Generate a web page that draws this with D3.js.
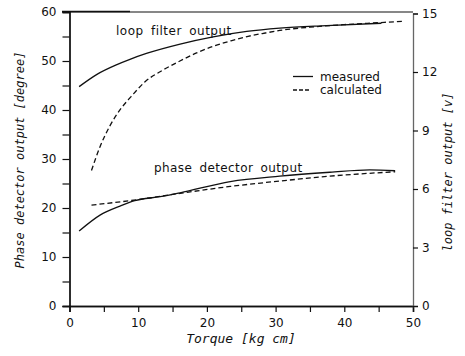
<!DOCTYPE html>
<html>
<head>
<meta charset="utf-8">
<script src="https://cdn.jsdelivr.net/npm/d3@7"></script>
<style>
  body { margin: 0; background: #fff; }
  text { font-family: "DejaVu Sans", sans-serif; fill: #111; }
  .title { font-family: "DejaVu Sans Mono", monospace; font-style: italic; }
</style>
</head>
<body>
<svg id="chart" width="465" height="356"></svg>
<script>
// torque [kg cm] vs loop filter output [v]
const loopMeasTorque = [1.4, 4, 6.9, 8.8, 11.2, 16.1, 20.9, 25.8, 30.6, 37.4, 45.4];
const loopMeasVolt = [11.25, 11.88, 12.38, 12.65, 12.95, 13.43, 13.8, 14.08, 14.25, 14.38, 14.5];
const loopCalcTorque = [3.2, 4.4, 5.9, 7.5, 9, 11, 13.5, 16, 18.5, 21, 23.5, 26, 28.5, 31, 35, 40, 45, 48.5];
const loopCalcVolt = [6.95, 8.13, 9.25, 10.13, 10.75, 11.5, 12.08, 12.55, 12.98, 13.33, 13.6, 13.83, 14.0, 14.15, 14.3, 14.43, 14.53, 14.6];

// torque vs phase detector output [degree]
const phaseMeasTorque = [1.4, 4.5, 7.35, 9.5, 13.2, 16.1, 23.4, 30.6, 37.9, 43.7, 47.4];
const phaseMeasDeg = [15.3, 18.6, 20.4, 21.5, 22.3, 23.1, 25.4, 26.5, 27.3, 27.8, 27.6];
const phaseCalcTorque = [3.2, 8.8, 16.1, 23.4, 30.6, 37.9, 47.4];
const phaseCalcDeg = [20.6, 21.5, 23.0, 24.4, 25.5, 26.5, 27.4];

const xTicks = [0, 10, 20, 30, 40, 50];
const xMinor = [5, 15, 25, 35, 45];
const yLeftTicks = [0, 10, 20, 30, 40, 50, 60];
const yLeftMinor = [5, 15, 25, 35, 45, 55];
const yRightTicks = [0, 3, 6, 9, 12, 15];

const svg = d3.select("#chart");
const plotLeft = 69.5, plotRight = 413, plotTop = 12, plotBottom = 306;

const x = d3.scaleLinear().domain([0, 50]).range([plotLeft, plotRight]);
const yL = d3.scaleLinear().domain([0, 60]).range([plotBottom, plotTop]);
const yR = d3.scaleLinear().domain([0, 15]).range([plotBottom, plotTop + 1.5]);

// frame
svg.append("line")
  .attr("x1", plotLeft).attr("x2", plotRight).attr("y1", plotTop).attr("y2", plotTop)
  .attr("stroke", "#111").attr("stroke-width", 1.2);
svg.append("line")
  .attr("x1", 62).attr("x2", 130).attr("y1", plotTop - 0.5).attr("y2", plotTop - 0.5)
  .attr("stroke", "#111").attr("stroke-width", 1.5);

// left axis
const gL = svg.append("g").attr("transform", "translate(" + plotLeft + ",0)");
gL.call(d3.axisLeft(yL).tickValues(yLeftTicks).tickSize(7).tickPadding(6));
gL.append("g").call(d3.axisLeft(yL).tickValues(yLeftMinor).tickSize(7).tickFormat(""));

// bottom axis
const gB = svg.append("g").attr("transform", "translate(0," + plotBottom + ")");
gB.call(d3.axisBottom(x).tickValues(xTicks).tickSize(6).tickPadding(6));
gB.append("g").call(d3.axisBottom(x).tickValues(xMinor).tickSize(6).tickFormat(""));

// right axis
const gR = svg.append("g").attr("transform", "translate(" + plotRight + ",0)");
gR.call(d3.axisRight(yR).tickValues(yRightTicks).tickSize(5).tickPadding(4));

svg.selectAll(".domain").attr("stroke", "#111").attr("stroke-width", 1.3);
gR.select(".domain").attr("stroke", "#666");
svg.selectAll(".tick line").attr("stroke", "#111").attr("stroke-width", 1.2);
svg.selectAll(".tick text").style("font-family", "DejaVu Sans, sans-serif")
  .style("font-size", "12px").attr("fill", "#111");

// curves
const lineR = d3.line().curve(d3.curveMonotoneX).x(d => x(d[0])).y(d => yR(d[1]));
const lineL = d3.line().curve(d3.curveMonotoneX).x(d => x(d[0])).y(d => yL(d[1]));

const series = [
  { path: lineR(d3.zip(loopMeasTorque, loopMeasVolt)), dash: null },
  { path: lineR(d3.zip(loopCalcTorque, loopCalcVolt)), dash: "5,3" },
  { path: lineL(d3.zip(phaseMeasTorque, phaseMeasDeg)), dash: null },
  { path: lineL(d3.zip(phaseCalcTorque, phaseCalcDeg)), dash: "5,3" }
];
svg.selectAll("path.curve").data(series).join("path")
  .attr("class", "curve")
  .attr("d", d => d.path)
  .attr("fill", "none")
  .attr("stroke", "#111")
  .attr("stroke-width", 1.3)
  .attr("stroke-dasharray", d => d.dash);

// in-plot labels
svg.append("text").attr("x", 116).attr("y", 35)
  .style("font-size", "12px").style("letter-spacing", "0.5px").style("word-spacing", "3px")
  .text("loop filter output");
svg.append("text").attr("x", 154).attr("y", 172)
  .style("font-size", "12px").style("letter-spacing", "0.4px").style("word-spacing", "3px")
  .text("phase detector output");

// legend
svg.append("line").attr("x1", 293).attr("x2", 313).attr("y1", 76.5).attr("y2", 76.5)
  .attr("stroke", "#111").attr("stroke-width", 1.3);
svg.append("line").attr("x1", 293).attr("x2", 310).attr("y1", 90).attr("y2", 90)
  .attr("stroke", "#111").attr("stroke-width", 1.5).attr("stroke-dasharray", "4,2");
svg.append("text").attr("x", 320).attr("y", 80.5).style("font-size", "12px").text("measured");
svg.append("text").attr("x", 320).attr("y", 94).style("font-size", "12px").text("calculated");

// axis titles
svg.append("text").attr("class", "title")
  .attr("transform", "translate(24,160) rotate(-90)")
  .attr("text-anchor", "middle").style("font-size", "12px")
  .text("Phase detector output [degree]");
svg.append("text").attr("class", "title")
  .attr("x", 241).attr("y", 343)
  .attr("text-anchor", "middle").style("font-size", "13px")
  .text("Torque [kg cm]");
svg.append("text").attr("class", "title")
  .attr("transform", "translate(452,172) rotate(-90)")
  .attr("text-anchor", "middle").style("font-size", "12px")
  .text("loop filter output [v]");
</script>
</body>
</html>
